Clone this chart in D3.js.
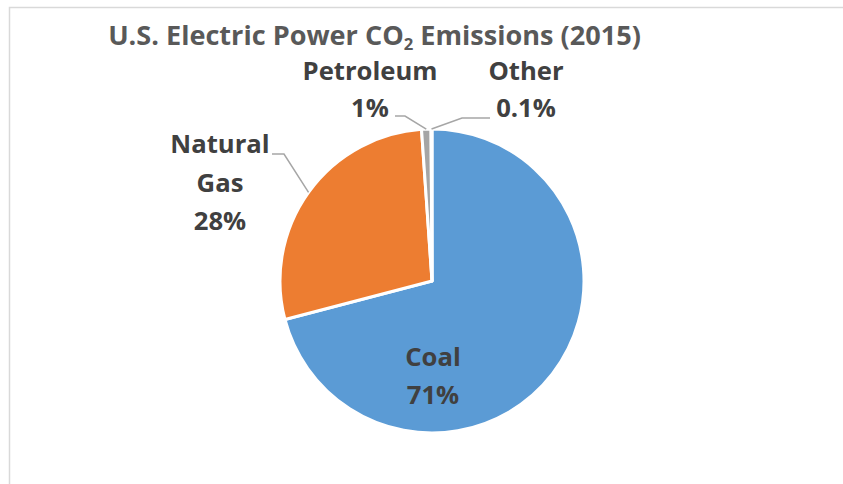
<!DOCTYPE html>
<html><head><meta charset="utf-8">
<script src="https://cdn.jsdelivr.net/npm/d3@7"></script>
<style>html,body{margin:0;padding:0;background:#fff;} svg{display:block;}</style>
</head><body>
<svg id="c" width="843" height="484"></svg>
<script>
const categories = ["Coal", "Natural Gas", "Petroleum", "Other"];
const values = [71, 28, 1, 0.1];
const labelText = ["71%", "28%", "1%", "0.1%"];
const colors = ["#5B9BD5", "#ED7D31", "#A5A5A5", "#FFC000"];

const svg = d3.select("#c");
const W = 843, H = 484;
const font = "'Open Sans', 'DejaVu Sans', sans-serif";

svg.append("rect").attr("x", 9.5).attr("y", 7.5).attr("width", 900).attr("height", 600)
  .attr("fill", "#fff").attr("stroke", "#d9d9d9").attr("stroke-width", 1.5);

// title
const title = svg.append("text").attr("x", 374.5).attr("y", 45)
  .attr("text-anchor", "middle").attr("font-family", font).attr("font-weight", "bold")
  .attr("font-size", 26).attr("fill", "#595959");
title.append("tspan").text("U.S. Electric Power CO");
title.append("tspan").text("2").attr("font-size", 16).attr("dy", 5);
title.append("tspan").text(" Emissions (2015)").attr("dy", -5);
const tw = title.node().getComputedTextLength();
const ts = 533 / tw;
title.attr("font-size", 26 * ts);
title.select("tspan:nth-child(2)").attr("font-size", 16 * ts);

const cx = 432, cy = 281, R = 152;
const pie = d3.pie().sort(null).value(d => d)(values);
const arc = d3.arc().innerRadius(0).outerRadius(R);
const g = svg.append("g").attr("transform", `translate(${cx},${cy})`);
g.selectAll("path").data(pie).join("path")
  .attr("d", arc).attr("fill", (d, i) => colors[i])
  .attr("stroke", "#fff").attr("stroke-width", 3).attr("stroke-linejoin", "round");

// label layout (positions of label text blocks)
const labelPos = [
  {x: 433, lines: [366, 404], name: ["Coal"]},
  {x: 220, lines: [153, 192, 230], name: ["Natural", "Gas"]},
  {x: 370, lines: [80, 117], name: ["Petroleum"]},
  {x: 526, lines: [80, 117], name: ["Other"]}
];
// leader line label-side points
const leaderPts = [
  null,
  [[272, 154], [284, 154]],
  [[395, 116], [405, 116]],
  [[490, 118], [462, 118]]
];

function anchor(d) {
  const a = (d.startAngle + d.endAngle) / 2;
  return [cx + R * Math.sin(a), cy - R * Math.cos(a)];
}

pie.forEach((d, i) => {
  if (leaderPts[i]) {
    const pts = leaderPts[i].concat([anchor(d)]);
    svg.append("path").attr("d", d3.line()(pts)).attr("fill", "none")
      .attr("stroke", "#A6A6A6").attr("stroke-width", 1.5);
  }
});

const labelNodes = [];
pie.forEach((d, i) => {
  const lp = labelPos[i];
  const lines = lp.name.concat([labelText[i]]);
  lines.forEach((t, k) => {
    const n = svg.append("text").attr("x", lp.x).attr("y", lp.lines[k])
      .attr("text-anchor", "middle").attr("font-family", font).attr("font-weight", "bold")
      .attr("font-size", 24).attr("fill", "#404040").text(t);
    labelNodes.push(n);
  });
});
// fit label font size to reference width of "Petroleum" (~135px)
const pet = labelNodes.find(n => n.text() === "Petroleum");
const ls = 135 / pet.node().getComputedTextLength();
labelNodes.forEach(n => n.attr("font-size", 24 * ls));
</script>
</body></html>
